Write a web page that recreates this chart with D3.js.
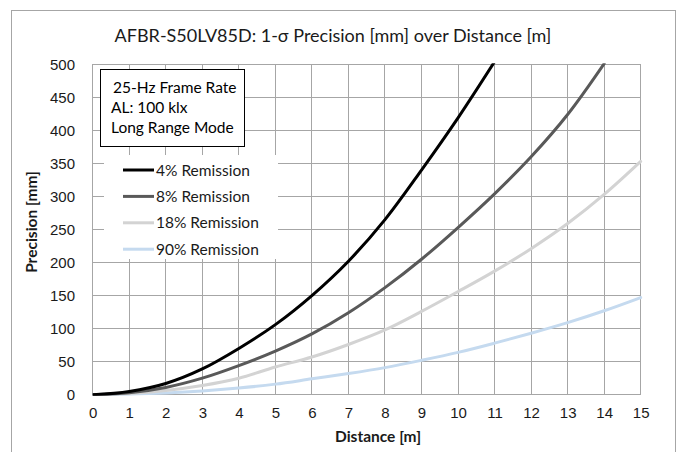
<!DOCTYPE html>
<html>
<head>
<meta charset="utf-8">
<script src="https://cdn.jsdelivr.net/npm/d3@7"></script>
<style>
  body { margin: 0; background: #fff; }
  svg { display: block; font-family: Lato, "Open Sans", sans-serif; }
</style>
</head>
<body>
<svg id="svg" width="681" height="452"></svg>
<script>
// distances [m] and precision [mm]
const distances = [0, 1, 2, 3, 4, 5, 6, 7, 8, 9, 10, 11, 12, 13, 14, 15];
const rem4  = [0, 5, 17, 39, 70, 106, 150, 202, 265, 340, 419, 504];
const rem8  = [0, 3, 11, 25, 44, 66, 92, 124, 162, 205, 253, 304, 360, 424, 501];
const rem18 = [0, 2, 6.5, 14, 25, 42, 57, 76, 98, 126, 156, 187, 221, 259, 303, 353];
const rem90 = [0, 0.8, 2.5, 5.5, 10, 16, 24, 32, 41, 52, 64, 78, 93, 109, 127, 147];
const seriesNames = ['4% Remission', '8% Remission', '18% Remission', '90% Remission'];
const seriesColors = ['#000000', '#595959', '#d3d3d3', '#c5daef'];
const xTicks = d3.range(0, 16, 1);
const yTicks = d3.range(0, 501, 50);
const infoLines = ['25-Hz Frame Rate', 'AL: 100 klx', 'Long Range Mode'];

const series = [rem4, rem8, rem18, rem90].map((vals, i) => ({
  name: seriesNames[i], color: seriesColors[i],
  pts: vals.map((v, j) => [distances[j], v])
}));

const svg = d3.select('#svg');
const L = 92.7, R = 640.7, T = 64.3, B = 394.7;
const x = d3.scaleLinear().domain([0, 15]).range([L, R]);
const y = d3.scaleLinear().domain([0, 500]).range([B, T]);
const txt = '#1a1a1a';

// chart frame
svg.append('rect').attr('x', 11.5).attr('y', 10.5).attr('width', 664).attr('height', 460)
  .attr('fill', '#fff').attr('stroke', '#a6a6a6').attr('stroke-width', 1);

svg.append('text').attr('x', 333).attr('y', 42).attr('text-anchor', 'middle')
  .attr('font-size', '18px').attr('fill', txt)
  .text('AFBR-S50LV85D: 1-σ Precision [mm] over Distance [m]');

// grid
const grid = svg.append('g').attr('stroke', '#a6a6a6').attr('stroke-width', 1).attr('shape-rendering', 'crispEdges');
grid.selectAll('line.v').data(xTicks).enter().append('line').attr('class', 'v')
  .attr('x1', d => x(d)).attr('x2', d => x(d)).attr('y1', T).attr('y2', B);
grid.selectAll('line.h').data(yTicks).enter().append('line').attr('class', 'h')
  .attr('x1', L).attr('x2', R).attr('y1', d => y(d)).attr('y2', d => y(d));

// axes labels
const xAxis = d3.axisBottom(x).tickValues(xTicks).tickSize(0).tickPadding(0);
svg.append('g').attr('transform', `translate(0,${B + 18})`).call(xAxis)
  .call(g => g.select('.domain').remove())
  .selectAll('text').attr('font-size', '15px').attr('fill', txt).attr('dy', '0.32em').attr('font-family', null);
const yAxis = d3.axisLeft(y).tickValues(yTicks).tickSize(0).tickPadding(0);
svg.append('g').attr('transform', `translate(75,0)`).call(yAxis)
  .call(g => g.select('.domain').remove())
  .selectAll('text').attr('font-size', '15px').attr('fill', txt).attr('font-family', null);

svg.append('text').attr('x', 378).attr('y', 442).attr('text-anchor', 'middle')
  .attr('font-size', '15.5px').attr('font-weight', 'bold').attr('fill', txt).text('Distance [m]');
svg.append('text').attr('transform', `translate(37,222) rotate(-90)`).attr('text-anchor', 'middle')
  .attr('font-size', '15.5px').attr('font-weight', 'bold').attr('fill', txt).text('Precision [mm]');

// curves
svg.append('clipPath').attr('id', 'plot').append('rect').attr('x', L).attr('y', T - 1).attr('width', R - L + 2).attr('height', B - T + 2);
const line = d3.line().x(d => x(d[0])).y(d => y(d[1])).curve(d3.curveCatmullRom.alpha(0.5));
svg.append('g').attr('clip-path', 'url(#plot)').selectAll('path').data(series.slice().reverse()).enter().append('path')
  .attr('d', d => line(d.pts)).attr('fill', 'none').attr('stroke', d => d.color).attr('stroke-width', 3).attr('stroke-linecap', 'round');

// info box
svg.append('rect').attr('x', 100.5).attr('y', 69.5).attr('width', 144).attr('height', 77)
  .attr('fill', '#fff').attr('stroke', '#000').attr('stroke-width', 1);
svg.selectAll('text.info').data(infoLines).enter().append('text').attr('class', 'info')
  .attr('x', (d, i) => i === 0 ? 113 : 111).attr('y', (d, i) => 93 + i * 20)
  .attr('font-size', '15.5px').attr('fill', '#000').text(d => d);

// legend
svg.append('rect').attr('x', 104).attr('y', 155).attr('width', 174).attr('height', 104).attr('fill', '#fff');
const leg = svg.selectAll('g.leg').data(series).enter().append('g').attr('class', 'leg')
  .attr('transform', (d, i) => `translate(0,${170 + i * 26.4})`);
leg.append('line').attr('x1', 123).attr('x2', 154).attr('stroke', d => d.color).attr('stroke-width', 3);
leg.append('text').attr('x', 156).attr('dy', '0.36em').attr('font-size', '15.5px').attr('fill', txt).text(d => d.name);
</script>
</body>
</html>
